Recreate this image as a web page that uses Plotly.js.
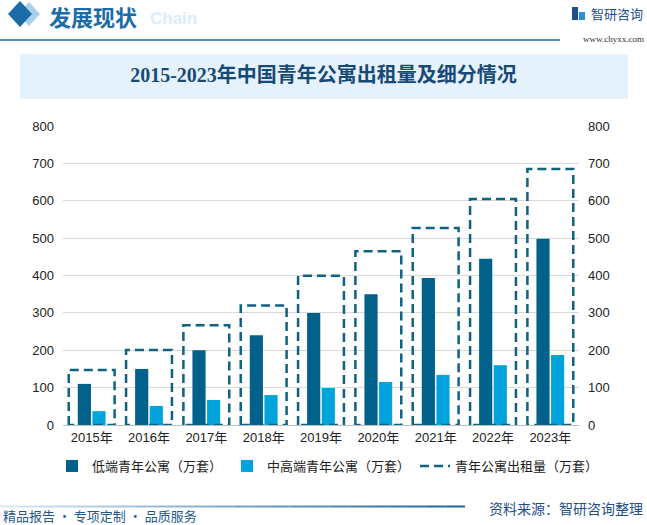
<!DOCTYPE html>
<html>
<head>
<meta charset="utf-8">
<script src="https://cdn.plot.ly/plotly-3.0.1.min.js"></script>
<style>
html,body{margin:0;padding:0;background:#fff;}
#chart{width:647px;height:525px;}
</style>
</head>
<body>
<div id="chart"></div>
<script>
// ---- data ----
const years = ['2015年','2016年','2017年','2018年','2019年','2020年','2021年','2022年','2023年'];
const lowEnd = [110, 150, 200, 240, 300, 350, 393, 445, 498];
const midHigh = [37, 51, 67, 80, 99, 115, 134, 160, 187];
const total = [147, 201, 267, 320, 399, 465, 527, 605, 685];
const yTicks = [0, 100, 200, 300, 400, 500, 600, 700, 800];

const seriesNames = ['低端青年公寓（万套）', '中高端青年公寓（万套）', '青年公寓出租量（万套）'];

// ---- layout geometry (pixels) ----
const W = 647, H = 525;
const mL = 63, mR = 68, mT = 126, mB = 100;
const pw = W - mL - mR, ph = H - mT - mB;
const X = px => (px - mL) / pw;
const Y = py => (H - mB - py) / ph;

const idx = years.map((_, i) => i);
const halfBox = 0.4;

// dashed boxes built from totals
const boxX = [], boxY = [];
total.forEach((t, i) => {
  boxX.push(i - halfBox, i - halfBox, i + halfBox, i + halfBox, i - halfBox, null);
  boxY.push(0, t, t, 0, 0, null);
});

const font = 'Liberation Sans, Arial, "Noto Sans CJK SC", sans-serif';
const cjk = '"Noto Sans CJK SC", "Liberation Sans", sans-serif';

const traces = [
  {type: 'bar', x: idx, y: lowEnd, name: seriesNames[0], marker: {color: '#01618a'}, hoverinfo: 'y'},
  {type: 'bar', x: idx, y: midHigh, name: seriesNames[1], marker: {color: '#00a3dc'}, hoverinfo: 'y'},
  {type: 'scatter', mode: 'lines', x: boxX, y: boxY, name: seriesNames[2], yaxis: 'y2',
   connectgaps: false, line: {color: '#0f6282', width: 2.5, dash: '9px,5px'}, hoverinfo: 'skip'}
];

const shapes = [
  // title band
  {type: 'rect', xref: 'paper', yref: 'paper', x0: X(20), x1: X(628), y0: Y(99), y1: Y(54),
   fillcolor: '#e6f2fb', line: {width: 0}, layer: 'below'},
  // header diamonds
  {type: 'path', xref: 'paper', yref: 'paper',
   path: `M ${X(29)} ${Y(2)} L ${X(40)} ${Y(14)} L ${X(29)} ${Y(26)} L ${X(18)} ${Y(14)} Z`,
   fillcolor: '#a9d0ea', line: {width: 0}},
  {type: 'path', xref: 'paper', yref: 'paper',
   path: `M ${X(20)} ${Y(1)} L ${X(32)} ${Y(14)} L ${X(20)} ${Y(27)} L ${X(8)} ${Y(14)} Z`,
   fillcolor: '#1b6ca6', line: {width: 0}},
  // header line
  {type: 'line', xref: 'paper', yref: 'paper', x0: X(0), x1: X(560), y0: Y(40), y1: Y(40),
   line: {color: '#1d6aa0', width: 1.5}},
  // logo icon
  {type: 'rect', xref: 'paper', yref: 'paper', x0: X(572), x1: X(578), y0: Y(20), y1: Y(7),
   fillcolor: '#1f4e8c', line: {width: 0}},
  {type: 'rect', xref: 'paper', yref: 'paper', x0: X(579), x1: X(585), y0: Y(20), y1: Y(12),
   fillcolor: '#2f8fd0', line: {width: 0}}
];

// footer gradient line
const segN = 24;
for (let k = 0; k < segN; k++) {
  const t = k / (segN - 1);
  const r = Math.round(215 + (26 - 215) * t), g = Math.round(230 + (100 - 230) * t), b = Math.round(242 + (155 - 242) * t);
  shapes.push({type: 'line', xref: 'paper', yref: 'paper',
    x0: X(465 * k / segN), x1: X(465 * (k + 1) / segN), y0: Y(506.5), y1: Y(506.5),
    line: {color: `rgb(${r},${g},${b})`, width: 2}});
}

const annotations = [
  {text: '<b>发展现状</b>', xref: 'paper', yref: 'paper', x: X(47), y: Y(16), xanchor: 'left', yanchor: 'middle',
   showarrow: false, font: {family: cjk, size: 22, color: '#1b6ca6'}},
  {text: '<b>Chain</b>', xref: 'paper', yref: 'paper', x: X(148), y: Y(18), xanchor: 'left', yanchor: 'middle',
   showarrow: false, font: {family: font, size: 17, color: '#dcecf8'}},
  {text: '智研咨询', xref: 'paper', yref: 'paper', x: X(645), y: Y(13), xanchor: 'right', yanchor: 'middle',
   showarrow: false, font: {family: cjk, size: 13, color: '#1f4e8c'}},
  {text: 'www.chyxx.com', xref: 'paper', yref: 'paper', x: X(646), y: Y(39), xanchor: 'right', yanchor: 'middle',
   showarrow: false, font: {family: 'Liberation Serif, serif', size: 9, color: '#333'}},
  {text: '资料来源：智研咨询整理', xref: 'paper', yref: 'paper', x: X(645), y: Y(508), xanchor: 'right', yanchor: 'middle',
   showarrow: false, font: {family: cjk, size: 14, color: '#1f4e8c'}},
  {text: '精品报告 · 专项定制 · 品质服务', xref: 'paper', yref: 'paper', x: X(1), y: Y(515), xanchor: 'left', yanchor: 'middle',
   showarrow: false, font: {family: cjk, size: 13, color: '#1f5a8a'}}
];

const layout = {
  width: W, height: H,
  margin: {l: mL, r: mR, t: mT, b: mB, pad: 0},
  paper_bgcolor: '#ffffff', plot_bgcolor: 'rgba(0,0,0,0)',
  title: {text: '<b>2015-2023年中国青年公寓出租量及细分情况</b>', x: 0.5, xref: 'container', xanchor: 'center',
    y: 1 - 75 / H, yref: 'container', yanchor: 'middle',
    font: {family: 'Liberation Serif, "Noto Sans CJK SC", serif', size: 20, color: '#174a78'}},
  barmode: 'group', bargap: 0.49, bargroupgap: 0.1,
  showlegend: true,
  legend: {orientation: 'h', x: X(52), xanchor: 'left', y: Y(466), yanchor: 'middle',
    font: {family: cjk, size: 13, color: '#222'}, itemwidth: 30, bgcolor: 'rgba(0,0,0,0)', traceorder: 'normal'},
  xaxis: {type: 'linear', range: [-0.5, years.length - 0.5], tickvals: idx, ticktext: years,
    showgrid: false, zeroline: false, showline: true, linecolor: '#bfbfbf', linewidth: 1, ticks: '',
    tickfont: {family: font, size: 13, color: '#222'}, fixedrange: true},
  yaxis: {range: [0, 800], tickvals: yTicks, showgrid: true, gridcolor: '#d9d9d9', gridwidth: 1,
    zeroline: false, showline: false, ticks: '', ticklabelstandoff: 8,
    tickfont: {family: font, size: 13, color: '#222'}},
  yaxis2: {range: [0, 800], tickvals: yTicks, overlaying: 'y', side: 'right', showgrid: false,
    zeroline: false, showline: false, ticks: '', ticklabelstandoff: 8,
    tickfont: {family: font, size: 13, color: '#222'}},
  shapes: shapes,
  annotations: annotations
};

Plotly.newPlot('chart', traces, layout, {displayModeBar: false, staticPlot: true});
</script>
</body>
</html>
